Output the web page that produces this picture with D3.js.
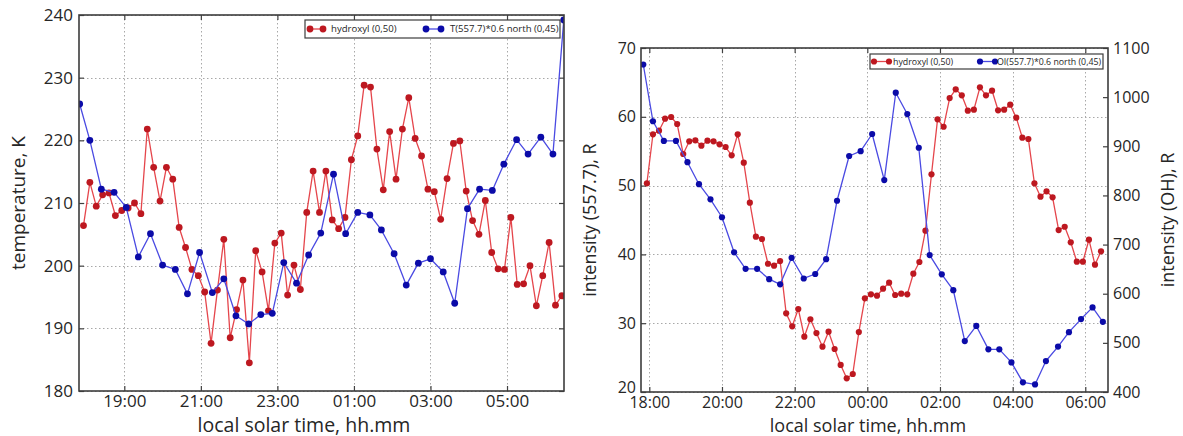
<!DOCTYPE html>
<html>
<head>
<meta charset="utf-8">
<script src="https://cdn.jsdelivr.net/npm/d3@7"></script>
<style>
  body { margin: 0; background: #fff; }
  text { font-family: "Open Sans", sans-serif; fill: #262626; }
</style>
</head>
<body>
<svg id="chart" width="1183" height="436"></svg>
<script>
// Hydroxyl (OH) measurements, 10-minute cadence
const ohTimes = [
  "17:56","18:06","18:16","18:26","18:36","18:46","18:56","19:06","19:16","19:26",
  "19:36","19:46","19:56","20:06","20:16","20:26","20:36","20:46","20:56","21:06",
  "21:16","21:26","21:36","21:46","21:56","22:06","22:16","22:26","22:36","22:46",
  "22:56","23:06","23:16","23:26","23:36","23:46","23:56","00:06","00:16","00:26",
  "00:36","00:46","00:56","01:06","01:16","01:26","01:36","01:46","01:56","02:06",
  "02:16","02:26","02:36","02:46","02:56","03:06","03:16","03:26","03:36","03:46",
  "03:56","04:06","04:16","04:26","04:36","04:46","04:56","05:06","05:16","05:26",
  "05:36","05:46","05:56","06:06","06:16","06:26"
];
const ohTemperature = [
  206.4, 213.3, 209.5, 211.3, 211.6, 208.0, 208.8, 209.2, 210.0, 208.3,
  221.8, 215.7, 210.3, 215.7, 213.8, 206.1, 202.9, 199.4, 198.4, 195.8,
  187.6, 196.1, 204.2, 188.5, 193.0, 197.7, 184.5, 202.4, 199.0, 192.8,
  203.6, 205.2, 195.3, 200.1, 196.2, 208.5, 215.1, 208.5, 215.1, 207.3,
  205.9, 207.7, 216.9, 220.7, 228.8, 228.5, 218.6, 212.1, 221.4, 213.8,
  221.8, 226.8, 220.3, 217.5, 212.2, 211.8, 207.4, 213.9, 219.5, 219.9,
  211.9, 207.2, 205.0, 210.4, 202.1, 199.5, 199.4, 207.7, 197.0, 197.1,
  200.0, 193.6, 198.4, 203.7, 193.7, 195.2
];
const ohIntensity = [
  824.7, 924.4, 931.7, 956.1, 959.6, 945.3, 884.3, 910.1, 912.2, 901.2,
  911.4, 910.1, 904.0, 898.5, 881.6, 924.4, 866.6, 785.2, 716.0, 711.3,
  661.0, 657.0, 666.5, 560.0, 533.7, 568.9, 512.5, 548.0, 520.0, 492.2,
  522.7, 487.5, 455.0, 427.8, 436.6, 522.0, 590.6, 598.8, 596.0, 610.2,
  622.4, 597.4, 600.0, 598.8, 640.7, 664.5, 728.2, 843.0, 954.9, 939.8,
  998.2, 1016.0, 1003.7, 972.4, 974.4, 1020.0, 1003.7, 1013.1, 973.2, 974.4,
  984.6, 958.2, 917.5, 914.8, 824.7, 797.4, 808.4, 796.2, 729.6, 736.3,
  704.6, 665.1, 665.1, 709.9, 659.0, 686.3
];

// Green line OI(557.7), north direction
const oiTimes = [
  "17:50","18:06","18:24","18:44","19:03","19:22","19:41","20:00","20:20","20:39",
  "20:58","21:18","21:36","21:55","22:15","22:34","22:52","23:10","23:30","23:49",
  "00:08","00:28","00:47","01:06","01:25","01:43","02:03","02:22","02:41","03:00",
  "03:20","03:38","03:58","04:17","04:37","04:55","05:15","05:33","05:53","06:12",
  "06:29"
];
const oiTemperature = [
  225.8, 220.0, 212.2, 211.7, 209.3, 201.4, 205.1, 200.1, 199.4, 195.5,
  202.1, 195.7, 197.9, 192.0, 190.7, 192.2, 192.4, 200.5, 197.2, 201.7,
  205.2, 214.6, 205.1, 208.5, 208.1, 205.7, 201.9, 196.9, 200.4, 201.1,
  199.0, 194.0, 209.1, 212.2, 212.0, 216.2, 220.1, 217.8, 220.5, 217.8,
  239.2
];
const oiIntensity = [
  67.6, 59.35, 56.5, 56.5, 53.4, 50.2, 48.0, 45.4, 40.3, 37.9,
  37.9, 36.4, 35.65, 39.5, 36.5, 37.15, 39.3, 47.8, 54.3, 55.0,
  57.5, 50.8, 63.5, 60.4, 55.5, 39.9, 37.1, 34.8, 27.4, 29.6,
  26.2, 26.2, 24.3, 21.4, 21.1, 24.5, 26.6, 28.7, 30.6, 32.3,
  30.2
];

// Axis ticks
const tempTimeTicks = ["19:00","21:00","23:00","01:00","03:00","05:00"];
const intTimeTicks = ["18:00","20:00","22:00","00:00","02:00","04:00","06:00"];
const tempTicks = [180, 190, 200, 210, 220, 230, 240];
const oiTicks = [20, 30, 40, 50, 60, 70];
const ohTicks = [400, 500, 600, 700, 800, 900, 1000, 1100];

const legendOH = "hydroxyl (0,50)";
const legendTempOI = "T(557.7)*0.6 north (0,45)";
const legendIntOI = "OI(557.7)*0.6 north (0,45)";

const RED_LINE = "#e5464c", RED_DOT = "#bd1820";
const BLUE_LINE = "#4a4ae2", BLUE_DOT = "#0b0ba8";

// Night spans past midnight: early-morning hours continue after 24
function hours(s) {
  const [h, m] = s.split(":").map(Number);
  const v = h + m / 60;
  return v < 12 ? v + 24 : v;
}

const svg = d3.select("#chart");
const plain = d3.format("d");

function drawPanel(cfg) {
  const { x0, x1, y0, y1, id } = cfg;
  const x = d3.scaleLinear().domain(cfg.xDomain).range([x0, x1]);
  const yL = d3.scaleLinear().domain(cfg.yDomain).range([y1, y0]);
  const g = svg.append("g");

  g.append("clipPath").attr("id", id).append("rect")
    .attr("x", x0).attr("y", y0).attr("width", x1 - x0).attr("height", y1 - y0);

  // dotted grid
  const grid = g.append("g").attr("stroke", "#a8a8a8").attr("stroke-width", 1)
    .attr("stroke-dasharray", "1.5,2.5");
  cfg.xTicks.forEach(t => {
    const px = Math.round(x(hours(t))) + 0.5;
    grid.append("line").attr("x1", px).attr("x2", px).attr("y1", y0).attr("y2", y1);
  });
  cfg.yTicks.forEach(t => {
    const py = Math.round(yL(t)) + 0.5;
    grid.append("line").attr("x1", x0).attr("x2", x1).attr("y1", py).attr("y2", py);
  });

  // bottom and left axes with inward ticks
  g.append("g").attr("transform", `translate(0,${y1})`)
    .call(d3.axisBottom(x).tickValues(cfg.xTicks.map(hours))
      .tickFormat((d, i) => cfg.xTicks[i]).tickSize(-5).tickPadding(cfg.xPad));
  const leftAxis = g.append("g").attr("transform", `translate(${x0},0)`)
    .call(d3.axisLeft(yL).tickValues(cfg.yTicks).tickFormat(plain).tickSize(-5).tickPadding(cfg.yPad));
  if (cfg.lowestLift) {
    // keep the lowest value label clear of the first time label
    leftAxis.selectAll(".tick text").filter(d => d === cfg.yDomain[0])
      .attr("y", -cfg.lowestLift);
  }
  // mirrored ticks on top / right
  g.append("g").attr("transform", `translate(0,${y0})`)
    .call(d3.axisTop(x).tickValues(cfg.xTicks.map(hours)).tickSize(-5).tickFormat(""));
  if (cfg.yR) {
    const yR = d3.scaleLinear().domain(cfg.yRDomain).range([y1, y0]);
    cfg.yR.scale = yR;
    g.append("g").attr("transform", `translate(${x1},0)`)
      .call(d3.axisRight(yR).tickValues(cfg.yRTicks).tickFormat(plain).tickSize(-5).tickPadding(cfg.yPad));
  } else {
    g.append("g").attr("transform", `translate(${x1},0)`)
      .call(d3.axisRight(yL).tickValues(cfg.yTicks).tickSize(-5).tickFormat(""));
  }
  g.selectAll(".domain").remove();
  g.selectAll(".tick line").attr("stroke", "#404040").attr("stroke-width", 1.2);
  g.selectAll(".tick text").style("font-family", '"Open Sans", sans-serif')
    .style("font-size", cfg.tickFont + "px").attr("fill", "#262626");

  // series
  const plot = g.append("g").attr("clip-path", `url(#${id})`);
  cfg.series.forEach(s => {
    const ys = s.scale();
    const pts = s.times.map((t, i) => [x(hours(t)), ys(s.values[i])]);
    plot.append("path").attr("d", d3.line()(pts)).attr("fill", "none")
      .attr("stroke", s.line).attr("stroke-width", 1.3).attr("stroke-linejoin", "round");
    plot.selectAll(null).data(pts).join("circle")
      .attr("cx", d => d[0]).attr("cy", d => d[1]).attr("r", cfg.r).attr("fill", s.dot);
  });

  // frame
  g.append("rect").attr("x", x0).attr("y", y0).attr("width", x1 - x0).attr("height", y1 - y0)
    .attr("fill", "none").attr("stroke", "#3c3c3c").attr("stroke-width", 1.6);

  // legend
  const L = cfg.legend;
  const lg = g.append("g");
  lg.append("rect").attr("x", L.x).attr("y", L.y).attr("width", L.w).attr("height", L.h)
    .attr("fill", "#fff").attr("stroke", "#3c3c3c").attr("stroke-width", 1.2);
  L.items.forEach(it => {
    const cy = L.y + L.h / 2;
    lg.append("line").attr("x1", it.sx).attr("x2", it.sx + it.sw).attr("y1", cy).attr("y2", cy)
      .attr("stroke", it.line).attr("stroke-width", 1.3);
    [it.sx, it.sx + it.sw].forEach(px => lg.append("circle").attr("cx", px).attr("cy", cy)
      .attr("r", cfg.r).attr("fill", it.dot));
    lg.append("text").attr("x", it.tx).attr("y", cy).attr("dy", "0.35em")
      .style("font-size", L.font + "px").attr("fill", "#333").text(it.label);
  });

  // axis titles
  g.append("text").attr("x", cfg.xLabelX).attr("y", cfg.xLabelY)
    .attr("text-anchor", "middle").style("font-size", cfg.xLabelFont + "px")
    .text("local solar time, hh.mm");
  g.append("text").attr("transform", `translate(${cfg.yLabelX},${(y0 + y1) / 2}) rotate(-90)`)
    .attr("text-anchor", "middle").style("font-size", cfg.labelFont + "px")
    .text(cfg.yLabel);
  if (cfg.yRLabel) {
    g.append("text").attr("transform", `translate(${cfg.yRLabelX},${(y0 + y1) / 2}) rotate(-90)`)
      .attr("text-anchor", "middle").style("font-size", cfg.labelFont + "px")
      .text(cfg.yRLabel);
  }
}

// Temperature panel
drawPanel({
  id: "clipTemp", x0: 79, x1: 564, y0: 15, y1: 391,
  xDomain: [17.816, 30.489], yDomain: [180, 240],
  xTicks: tempTimeTicks, yTicks: tempTicks,
  tickFont: 17, labelFont: 19, xLabelFont: 19.5, xPad: 4, yPad: 6, r: 3.4,
  xLabelX: 304, xLabelY: 431.5, yLabel: "temperature, K", yLabelX: 25,
  series: [
    { times: ohTimes, values: ohTemperature, line: RED_LINE, dot: RED_DOT, scale: () => d3.scaleLinear().domain([180, 240]).range([391, 15]) },
    { times: oiTimes, values: oiTemperature, line: BLUE_LINE, dot: BLUE_DOT, scale: () => d3.scaleLinear().domain([180, 240]).range([391, 15]) }
  ],
  legend: { x: 305, y: 20, w: 255, h: 18, font: 9.6, items: [
    { sx: 310, sw: 13, tx: 331, label: legendOH, line: RED_LINE, dot: RED_DOT },
    { sx: 426, sw: 15, tx: 450, label: legendTempOI, line: BLUE_LINE, dot: BLUE_DOT }
  ] }
});

// Intensity panel (OI on the left axis, OH on the right axis)
const ohScaleCfg = {};
drawPanel({
  id: "clipInt", x0: 641, x1: 1108, y0: 48, y1: 392,
  xDomain: [17.771, 30.625], yDomain: [20, 70],
  yRDomain: [400, 1100], yRTicks: ohTicks, yR: ohScaleCfg,
  xTicks: intTimeTicks, yTicks: oiTicks, lowestLift: 5,
  tickFont: 16, labelFont: 18, xLabelFont: 18, xPad: 5, yPad: 5, r: 3.1,
  xLabelX: 868, xLabelY: 432, yLabel: "intensity (557.7), R", yLabelX: 596,
  yRLabel: "intensity (OH), R", yRLabelX: 1174,
  series: [
    { times: ohTimes, values: ohIntensity, line: RED_LINE, dot: RED_DOT, scale: () => ohScaleCfg.scale },
    { times: oiTimes, values: oiIntensity, line: BLUE_LINE, dot: BLUE_DOT, scale: () => d3.scaleLinear().domain([20, 70]).range([392, 48]) }
  ],
  legend: { x: 870, y: 54, w: 233, h: 15, font: 8.8, items: [
    { sx: 874, sw: 15, tx: 893, label: legendOH, line: RED_LINE, dot: RED_DOT },
    { sx: 980, sw: 15, tx: 997, label: legendIntOI, line: BLUE_LINE, dot: BLUE_DOT }
  ] }
});
</script>
</body>
</html>
